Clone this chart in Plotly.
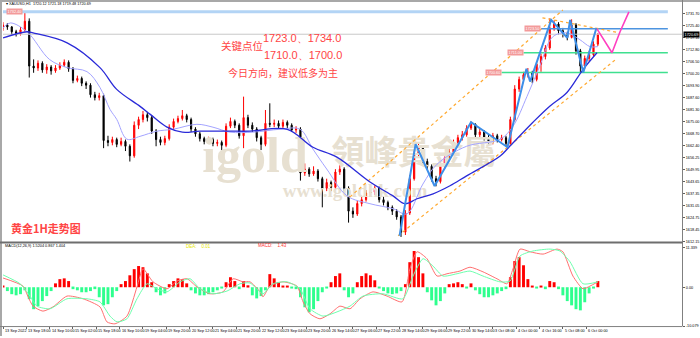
import plotly.graph_objects as go

# ---------------- canvas / pixel layout ----------------
W, H = 700, 338
PX_L, PX_R = 3, 682
MAIN_T, MAIN_B = 3, 243
MACD_T, MACD_B = 245, 328
PX_PER_BAR = 1.458
X_MAX = (PX_R - PX_L) / PX_PER_BAR
P_TOP, P_BOT = 1737.06, 1612.07
M_TOP, M_BOT = 11.339, -10.079


def fx(px):
    return px / W


def fy(py):
    return (H - py) / H


def px2i(px):
    return (px - PX_L) / PX_PER_BAR


def py2p(py):
    return P_TOP - (py - MAIN_T) * (P_TOP - P_BOT) / (MAIN_B - MAIN_T)


# ---------------- data ----------------
hours = list(range(0, 409, 3))  # bar index (hours since 13 Sep) of each candle

opens = [1724.0, 1725.5, 1724.5, 1722.0, 1721.0, 1723.0, 1727.5, 1704.0, 1703.0, 1705.5,
         1702.0, 1703.5, 1701.5, 1703.0, 1704.5, 1706.0, 1702.5, 1696.5, 1697.5, 1695.0,
         1694.0, 1689.0, 1687.5, 1688.5, 1665.0, 1664.0, 1665.5, 1663.0, 1664.5, 1662.0,
         1657.0, 1673.0, 1676.0, 1678.5, 1677.0, 1670.0, 1665.5, 1664.0, 1666.0, 1672.0,
         1675.0, 1676.5, 1678.0, 1676.0, 1671.0, 1668.5, 1666.0, 1664.5, 1665.5, 1663.5,
         1664.0, 1662.5, 1672.5, 1675.0, 1673.0, 1667.5, 1677.0, 1673.0, 1671.0, 1666.5,
         1663.0, 1674.0, 1673.5, 1674.0, 1672.5, 1674.5, 1673.0, 1670.5, 1671.0, 1648.0,
         1650.0, 1647.5, 1649.0, 1645.0, 1640.0, 1643.0, 1640.5, 1648.5, 1650.0, 1640.0,
         1628.0, 1626.5, 1632.0, 1634.0, 1637.5, 1638.0, 1640.0, 1634.0, 1632.5, 1630.0,
         1628.0, 1625.0, 1617.0, 1627.0, 1645.0, 1658.0, 1661.0, 1654.0, 1651.5, 1645.0,
         1643.5, 1652.0, 1656.0, 1659.0, 1664.0, 1666.5, 1668.0, 1671.5, 1673.5, 1668.0,
         1669.5, 1666.5, 1664.0, 1667.5, 1665.5, 1666.5, 1663.5, 1676.0, 1692.0, 1697.0,
         1699.5, 1700.5, 1697.0, 1705.0, 1709.0, 1713.5, 1724.0, 1726.0, 1722.5, 1721.0,
         1719.0, 1725.5, 1712.0, 1704.0, 1708.0, 1710.0, 1715.5]

highs = [1727.0, 1726.5, 1725.0, 1723.0, 1724.5, 1732.3, 1729.0, 1707.5, 1707.0, 1706.5,
         1705.0, 1704.5, 1704.5, 1706.0, 1707.5, 1707.0, 1703.5, 1699.0, 1698.5, 1696.0,
         1695.0, 1690.5, 1690.0, 1689.5, 1667.5, 1667.0, 1666.5, 1666.5, 1665.5, 1663.0,
         1675.0, 1677.5, 1680.5, 1680.0, 1678.0, 1671.0, 1667.0, 1667.5, 1673.5, 1676.5,
         1678.0, 1681.0, 1679.0, 1677.0, 1672.0, 1669.5, 1667.0, 1667.0, 1666.5, 1665.5,
         1665.0, 1674.0, 1677.0, 1676.0, 1674.0, 1688.0, 1678.5, 1674.5, 1672.0, 1667.5,
         1681.0, 1684.5, 1676.0, 1675.5, 1676.0, 1675.5, 1674.0, 1672.5, 1672.0, 1653.0,
         1651.0, 1651.5, 1650.0, 1646.0, 1645.0, 1644.0, 1650.0, 1652.0, 1651.0, 1641.0,
         1630.0, 1633.5, 1636.0, 1639.0, 1640.0, 1641.5, 1641.0, 1635.5, 1633.5, 1631.0,
         1629.0, 1626.0, 1628.5, 1647.0, 1660.0, 1663.5, 1662.0, 1655.5, 1652.5, 1646.5,
         1653.5, 1657.5, 1660.5, 1665.5, 1668.0, 1670.0, 1673.0, 1675.0, 1674.0, 1671.5,
         1670.5, 1668.0, 1669.0, 1668.5, 1668.0, 1667.5, 1677.5, 1694.0, 1698.5, 1701.0,
         1703.0, 1701.5, 1706.5, 1710.5, 1715.0, 1729.0, 1728.0, 1727.0, 1724.0, 1722.0,
         1728.5, 1726.5, 1713.0, 1709.5, 1712.0, 1717.0, 1721.2]

lows = [1722.5, 1723.0, 1720.5, 1719.5, 1720.0, 1722.0, 1698.0, 1700.5, 1701.5, 1700.5,
        1700.0, 1699.5, 1700.5, 1702.0, 1703.5, 1701.0, 1695.0, 1695.5, 1693.5, 1692.0,
        1687.5, 1686.0, 1686.0, 1661.0, 1662.0, 1662.5, 1661.5, 1662.0, 1659.5, 1654.0,
        1656.0, 1671.0, 1674.5, 1675.0, 1668.5, 1662.0, 1662.5, 1662.5, 1665.0, 1671.0,
        1674.0, 1675.5, 1674.5, 1669.5, 1667.0, 1664.5, 1663.0, 1663.5, 1662.0, 1662.0,
        1660.0, 1661.5, 1671.5, 1671.5, 1666.0, 1661.0, 1671.5, 1669.5, 1664.5, 1660.0,
        1662.0, 1672.0, 1672.0, 1671.0, 1671.5, 1671.5, 1669.5, 1669.0, 1644.0, 1646.5,
        1646.0, 1646.5, 1643.5, 1630.0, 1638.5, 1638.5, 1639.5, 1647.0, 1638.0, 1622.0,
        1624.5, 1625.5, 1630.5, 1633.0, 1635.5, 1636.5, 1632.5, 1631.0, 1628.5, 1626.0,
        1623.5, 1614.5, 1615.5, 1626.0, 1644.0, 1656.5, 1652.5, 1650.0, 1643.5, 1641.0,
        1642.5, 1650.5, 1654.5, 1658.0, 1662.5, 1665.0, 1667.0, 1670.5, 1666.5, 1666.5,
        1665.0, 1663.0, 1663.0, 1664.0, 1664.5, 1662.0, 1662.5, 1675.0, 1690.5, 1695.5,
        1698.0, 1695.0, 1696.0, 1701.0, 1707.5, 1712.5, 1722.5, 1720.5, 1719.0, 1717.5,
        1718.5, 1710.0, 1700.5, 1702.5, 1706.5, 1709.0, 1714.5]

closes = [1725.5, 1724.5, 1722.0, 1721.0, 1723.0, 1727.5, 1704.0, 1703.0, 1705.5, 1702.0,
          1703.5, 1701.5, 1703.0, 1704.5, 1706.0, 1702.5, 1696.5, 1697.5, 1695.0, 1694.0,
          1689.0, 1687.5, 1688.5, 1665.0, 1664.0, 1665.5, 1663.0, 1664.5, 1662.0, 1657.0,
          1673.0, 1676.0, 1678.5, 1677.0, 1670.0, 1665.5, 1664.0, 1666.0, 1672.0, 1675.0,
          1676.5, 1678.0, 1676.0, 1671.0, 1668.5, 1666.0, 1664.5, 1665.5, 1663.5, 1664.0,
          1662.5, 1672.5, 1675.0, 1673.0, 1667.5, 1677.0, 1673.0, 1671.0, 1666.5, 1663.0,
          1674.0, 1673.5, 1674.0, 1672.5, 1674.5, 1673.0, 1670.5, 1671.0, 1648.0, 1650.0,
          1647.5, 1649.0, 1645.0, 1640.0, 1643.0, 1640.5, 1648.5, 1650.0, 1640.0, 1628.0,
          1626.5, 1632.0, 1634.0, 1637.5, 1638.0, 1640.0, 1634.0, 1632.5, 1630.0, 1628.0,
          1625.0, 1617.0, 1627.0, 1645.0, 1658.0, 1661.0, 1654.0, 1651.5, 1645.0, 1643.5,
          1652.0, 1656.0, 1659.0, 1664.0, 1666.5, 1668.0, 1671.5, 1673.5, 1668.0, 1669.5,
          1666.5, 1664.0, 1667.5, 1665.5, 1666.5, 1663.5, 1676.0, 1692.0, 1697.0, 1699.5,
          1700.5, 1697.0, 1705.0, 1709.0, 1713.5, 1724.0, 1726.0, 1722.5, 1721.0, 1719.0,
          1725.5, 1712.0, 1704.0, 1708.0, 1710.0, 1715.5, 1720.7]

ma_fast_x = [0, 5, 16.5, 32, 44, 57.6, 66.5, 73.4, 78, 85, 94, 105.6, 116.6, 133, 144, 155.7,
             171.5, 190, 203.7, 212.6, 222, 236, 251.7, 267.5, 277, 288, 297.7, 318, 341,
             349.8, 359.4, 368, 377, 386.8, 395.7, 402.6, 408]
ma_fast_y = [1724.0, 1726.6, 1722.0, 1707.4, 1703.2, 1701.1, 1692.8, 1681.3, 1676.1, 1665.7,
             1667.2, 1669.9, 1670.9, 1673.5, 1672.0, 1669.4, 1669.4, 1670.9, 1670.9, 1660.5,
             1650.1, 1636.0, 1631.9, 1629.3, 1626.6, 1642.2, 1652.6, 1662.0, 1665.7, 1672.5,
             1688.1, 1703.7, 1719.3, 1721.4, 1717.8, 1714.2, 1714.2]

ma_slow_x = [0, 16.5, 20.6, 44, 66.5, 78, 94, 101, 112.5, 123, 135, 155.7, 169.4, 195, 212.6,
             229, 251.7, 267.5, 275.7, 284, 295, 306.6, 318, 341, 347.7, 363.5, 375, 386.8,
             397.8, 407.4]
ma_slow_y = [1718.8, 1722.0, 1721.4, 1716.2, 1703.2, 1691.8, 1682.9, 1678.7, 1672.0, 1669.4,
             1669.9, 1669.9, 1669.9, 1670.9, 1661.5, 1656.3, 1643.3, 1636.0, 1631.9, 1634.5,
             1637.1, 1641.3, 1646.5, 1656.9, 1662.1, 1674.6, 1683.0, 1690.2, 1702.2, 1711.0]

zz_x = [272, 283, 296, 321, 346, 359, 361.5, 376, 387, 389, 398, 407]
zz_y = [1615.1, 1663.1, 1641.2, 1674.6, 1661.5, 1702.6, 1695.9, 1728.2, 1718.8, 1728.2,
        1700.6, 1724.0]

fc_x = [407.4, 417.7, 423.2, 429.3]
fc_y = [1723.5, 1711.0, 1722.0, 1732.4]

ch_up_x = [238, 384]
ch_up_y = [1635.5, 1733.4]
ch_lo_x = [271, 420]
ch_lo_y = [1615.1, 1707.3]
ch_top_x = [370, 423]
ch_top_y = [1729.3, 1721.4]

level_prices = [1732.4, 1723.5, 1711.0, 1700.6]
level_start = [0, 369, 357, 342]
level_end = 456
level_texts = ["1732.40", "1723.50", "1711.00", "1700.60"]
level_label_px = [14, 532, 515.5, 493.5]
level_colors = ["#b3d4f5", "#4d94e0", "#3fe08f", "#3fe08f"]
level_widths = [3, 1.5, 1.5, 1.5]

last_price = 1720.69

macd_hist = [0.4, -1.0, -1.8, -2.1, -1.8, -0.8, -3.1, -5.7, -4.9, -3.6,
             -2.3, -1.0, 1.0, 2.1, 2.3, 1.6, -0.5, -0.8, -1.3, -1.3,
             -1.0, -0.5, -2.6, -4.7, -4.4, -2.6, -1.0, 0.8, 1.6, 3.1,
             4.7, 5.5, 5.2, 3.6, 1.3, -1.3, -2.1, -1.6, 0.8, 1.6,
             2.3, 2.1, 1.0, -0.8, -1.6, -2.1, -2.1, -1.8, -1.3, -0.8,
             -0.3, 1.3, 2.6, 1.6, -0.5, 1.6, 0.5, -2.1, -2.9, -2.3,
             -0.8, 3.4, 2.3, 1.3, 0.3, 0.3, -0.3, -0.5, -2.6, -5.2,
             -6.5, -5.7, -3.6, -1.3, -0.3, 1.3, 2.9, 3.6, -0.8, -2.6,
             -1.6, 1.3, 2.9, 3.6, 3.1, 1.8, -0.3, -1.0, -1.6, -1.8,
             -1.6, -1.0, 0.8, 6.5, 9.4, 7.8, 3.6, -1.3, -3.4, -4.7,
             -3.6, -1.6, 0.8, 1.0, 1.3, 0.8, -0.3, 1.0, -0.8, -1.8,
             -2.6, -2.6, -2.1, -1.6, -1.0, -0.5, 2.6, 6.8, 7.8, 5.7,
             2.1, 0.3, -0.3, 0.3, -0.5, 1.6, 1.3, -0.5, -2.1, -3.6,
             -4.7, -5.7, -6.0, -3.9, -1.6, -0.3, 1.6]

macd_x = [0, 13.7, 17, 20.6, 27.4, 34.3, 43.9, 54.9, 66.5, 71.3, 76.8, 85, 91.9, 96, 102.9,
          112.5, 119.3, 126.2, 133, 142, 150.9, 157.8, 164.6, 169.4, 176.3, 178.3, 183.1, 192,
          201.6, 205.8, 210.6, 217.4, 224.3, 231.1, 238, 244.9, 253.8, 263.4, 273.7, 279.1,
          284, 290.8, 297.7, 304.5, 313.4, 320.3, 329.2, 338.8, 345.7, 349.8, 354.6, 361.5,
          370.4, 380, 384, 390.9, 397.8, 402.6, 408]
macd_y = [2.4, 0.3, -2.3, -4.9, -6.2, -5.1, -2.3, -3.0, -5.1, -9.0, -9.5, -7.5, 0.1, 4.8, 1.4,
          -0.4, 1.6, 2.2, 0.1, -1.7, -1.2, 2.2, 1.4, 1.4, -1.2, -2.5, 0.3, 1.4, 0.3, -3.8,
          -6.9, -8.2, -6.9, -4.9, -5.6, -3.0, -1.2, -2.3, -3.8, 4.8, 9.2, 7.4, 2.9, 3.5, 4.2,
          5.2, 4.0, 2.2, 0.9, 4.8, 9.9, 9.2, 8.6, 9.9, 9.2, 2.9, -0.4, 0.3, 1.4]

sig_x = [0, 11.7, 18.5, 23.3, 32.2, 43.9, 57.6, 66.5, 73.4, 78.2, 85, 91.9, 98.8, 105.6,
         112.5, 121.4, 128.3, 135.1, 144, 153.6, 162.6, 169.4, 178.3, 185.2, 194.8, 203.7,
         210.6, 219.5, 229.1, 238, 246.9, 260.6, 274.3, 281.2, 288.1, 294.9, 301.8, 311.4,
         320.3, 329.2, 340.9, 347.7, 354.6, 363.5, 375.2, 382, 388.9, 397.8, 408]
sig_y = [3.2, 0.9, -2.3, -4.9, -5.6, -3.0, -3.0, -3.8, -7.5, -9.0, -8.2, -3.0, 0.9, -0.4,
         -1.2, 1.4, 2.2, -0.4, -1.7, -1.0, 0.9, 1.1, -1.7, 0.9, 1.4, -0.4, -5.6, -7.5, -6.4,
         -4.9, -2.3, -1.7, -3.0, 2.9, 7.4, 5.5, 2.9, 3.5, 4.2, 2.9, 1.4, 1.6, 8.1, 9.4, 9.9,
         9.4, 6.6, 0.9, 1.4]

price_tick_labels = ["1731.70", "1725.40", "1719.10", "1712.80", "1706.50", "1700.20",
                     "1693.90", "1687.60", "1681.30", "1675.00", "1668.70", "1662.40",
                     "1656.25", "1649.95", "1643.65", "1637.35", "1631.05", "1624.75",
                     "1618.45", "1612.15"]
macd_tick_labels = ["11.339", "0.00", "-10.079"]
macd_tick_vals = [10.3, 0.0, -10.079]   # top label sits just under the pane edge

time_labels = ["13 Sep 2022", "13 Sep 18:00", "14 Sep 10:00", "15 Sep 02:00", "15 Sep 18:00",
               "16 Sep 10:00", "19 Sep 04:00", "19 Sep 20:00", "20 Sep 12:00", "21 Sep 04:00",
               "21 Sep 20:00", "22 Sep 12:00", "23 Sep 04:00", "23 Sep 20:00", "26 Sep 14:00",
               "27 Sep 06:00", "27 Sep 22:00", "28 Sep 14:00", "29 Sep 06:00", "29 Sep 22:00",
               "30 Sep 14:00", "3 Oct 08:00", "4 Oct 00:00", "4 Oct 16:00", "5 Oct 08:00",
               "6 Oct 00:00"]
BARS_PER_LABEL = 16

# ---------------- figure ----------------
fig = go.Figure()

# watermark (behind everything)
wm_col = "#e7e0d1"
fig.add_trace(go.Scatter(x=[px2i(255)], y=[py2p(160)], mode="text", text=["igold"],
                         textfont=dict(family="Liberation Serif", size=50, color=wm_col, weight="bold"),
                         hoverinfo="skip"))
fig.add_trace(go.Scatter(x=[px2i(414)], y=[py2p(157)], mode="text", text=["領峰貴金屬"],
                         textfont=dict(family="Noto Sans CJK TC", size=33, color=wm_col, weight="bold"),
                         hoverinfo="skip"))
fig.add_trace(go.Scatter(x=[px2i(355)], y=[py2p(193)], mode="text", text=["www.igoldhk.com"],
                         textfont=dict(family="Liberation Serif", size=19, color=wm_col, weight="bold"),
                         hoverinfo="skip"))

# current price line
fig.add_trace(go.Scatter(x=[0, X_MAX], y=[last_price, last_price], mode="lines",
                         line=dict(color="#c8c8c8", width=1), hoverinfo="skip"))

# key level lines
for p, s, c, w in zip(level_prices, level_start, level_colors, level_widths):
    fig.add_trace(go.Scatter(x=[s, level_end], y=[p, p], mode="lines",
                             line=dict(color=c, width=w), hoverinfo="skip"))

# channel lines
for cx, cy in [(ch_up_x, ch_up_y), (ch_lo_x, ch_lo_y), (ch_top_x, ch_top_y)]:
    fig.add_trace(go.Scatter(x=cx, y=cy, mode="lines",
                             line=dict(color="#ffa930", width=1.2, dash="dot"), hoverinfo="skip"))

# candles
fig.add_trace(go.Candlestick(x=hours, open=opens, high=highs, low=lows, close=closes,
                             increasing=dict(line=dict(color="#ff0000", width=1), fillcolor="#ff0000"),
                             decreasing=dict(line=dict(color="#000000", width=1), fillcolor="#000000"),
                             whiskerwidth=0, hoverinfo="skip"))

# moving averages
fig.add_trace(go.Scatter(x=ma_fast_x, y=ma_fast_y, mode="lines", line=dict(color="#a3a3ff", width=1, shape="spline"),
                         hoverinfo="skip"))
fig.add_trace(go.Scatter(x=ma_slow_x, y=ma_slow_y, mode="lines", line=dict(color="#2a2ad8", width=1.3, shape="spline"),
                         hoverinfo="skip"))

# zigzag + forecast
fig.add_trace(go.Scatter(x=zz_x, y=zz_y, mode="lines", line=dict(color="#3d8fe8", width=2), hoverinfo="skip"))
fig.add_trace(go.Scatter(x=fc_x, y=fc_y, mode="lines", line=dict(color="#ff3fc0", width=1.6), hoverinfo="skip"))

# MACD pane
hist_colors = ["#ff0000" if v >= 0 else "#2eff8e" for v in macd_hist]
fig.add_trace(go.Bar(x=hours, y=macd_hist, width=2.0, marker=dict(color=hist_colors, line=dict(width=0)),
                     xaxis="x2", yaxis="y2", hoverinfo="skip"))
fig.add_trace(go.Scatter(x=macd_x, y=macd_y, mode="lines", line=dict(color="#ff7070", width=1, shape="spline", smoothing=0.6),
                         xaxis="x2", yaxis="y2", hoverinfo="skip"))
fig.add_trace(go.Scatter(x=sig_x, y=sig_y, mode="lines", line=dict(color="#6effae", width=1, shape="spline", smoothing=0.6),
                         xaxis="x2", yaxis="y2", hoverinfo="skip"))

tiny = dict(family="Liberation Sans", size=3.8, color="#000000")

fig.update_layout(
    width=W, height=H, margin=dict(l=0, r=0, t=0, b=0),
    paper_bgcolor="white", plot_bgcolor="white", showlegend=False,
    boxgap=0.62, hovermode=False,
    xaxis=dict(domain=[fx(PX_L), fx(PX_R)], range=[0, X_MAX], anchor="y",
               showticklabels=False, showgrid=False, zeroline=False, ticks="",
               rangeslider=dict(visible=False), fixedrange=True),
    yaxis=dict(domain=[fy(MAIN_B), fy(MAIN_T)], range=[P_BOT, P_TOP], anchor="x", side="right",
               tickvals=[float(t) for t in price_tick_labels], ticktext=price_tick_labels,
               tickfont=tiny, ticks="outside", ticklen=2, tickcolor="#606060",
               showgrid=False, zeroline=False, fixedrange=True),
    xaxis2=dict(domain=[fx(PX_L), fx(PX_R)], range=[0, X_MAX], anchor="y2",
                tickvals=[BARS_PER_LABEL * k for k in range(len(time_labels))],
                showticklabels=False, ticks="outside", ticklen=2, tickcolor="#606060",
                showgrid=False, zeroline=False, fixedrange=True),
    yaxis2=dict(domain=[fy(MACD_B), fy(MACD_T)], range=[M_BOT, M_TOP], anchor="x2", side="right",
                tickvals=macd_tick_vals, ticktext=macd_tick_labels,
                tickfont=tiny, ticks="outside", ticklen=2, tickcolor="#606060",
                showgrid=False, zeroline=False, fixedrange=True),
)

# frame lines
shapes = [
    dict(type="line", xref="paper", yref="paper", x0=0, x1=1, y0=fy(1), y1=fy(1), line=dict(color="#a8a8a8", width=2)),
    dict(type="line", xref="paper", yref="paper", x0=fx(1), x1=fx(1), y0=0, y1=1, line=dict(color="#a8a8a8", width=2)),
    dict(type="line", xref="paper", yref="paper", x0=fx(682.5), x1=fx(682.5), y0=fy(MACD_B), y1=1, line=dict(color="#808080", width=1)),
    dict(type="line", xref="paper", yref="paper", x0=0, x1=fx(682.5), y0=fy(244), y1=fy(244), line=dict(color="#6e6e6e", width=2)),
    dict(type="line", xref="paper", yref="paper", x0=0, x1=fx(682.5), y0=fy(MACD_B + 0.5), y1=fy(MACD_B + 0.5), line=dict(color="#808080", width=1)),
]
fig.update_layout(shapes=shapes)

ann = []
# header
ann.append(dict(xref="paper", yref="paper", x=fx(4), y=fy(4.5), xanchor="left", yanchor="middle",
                text="▾ XAUUSD,H1  1720.12 1721.18 1719.48 1720.69", showarrow=False, font=tiny))
# current price box
ann.append(dict(xref="paper", yref="y", x=fx(683), y=last_price, xanchor="left", yanchor="middle",
                text=f"{last_price:.2f}", showarrow=False, bgcolor="#000000", borderpad=0.6,
                font=dict(family="Liberation Sans", size=3.8, color="#ffffff")))
# level labels
for p, t, lx in zip(level_prices, level_texts, level_label_px):
    ann.append(dict(xref="paper", yref="y", x=fx(lx), y=p, xanchor="center", yanchor="middle",
                    text=t, showarrow=False, bgcolor="#f39a9a", borderpad=0.6,
                    font=dict(family="Liberation Sans", size=3.8, color="#ffffff")))
# red commentary
red = "#ff4545"
ann.append(dict(xref="paper", yref="paper", x=fx(261), y=fy(38), xanchor="left", yanchor="middle",
                text="1723.0、1734.0", showarrow=False, font=dict(family="Liberation Sans", size=11, color=red)))
ann.append(dict(xref="paper", yref="paper", x=fx(219), y=fy(46), xanchor="left", yanchor="middle",
                text="关键点位", showarrow=False, font=dict(family="Noto Sans CJK SC", size=10.5, color=red)))
ann.append(dict(xref="paper", yref="paper", x=fx(262), y=fy(55), xanchor="left", yanchor="middle",
                text="1710.0、1700.0", showarrow=False, font=dict(family="Liberation Sans", size=11, color=red)))
ann.append(dict(xref="paper", yref="paper", x=fx(226), y=fy(73), xanchor="left", yanchor="middle",
                text="今日方向，建议低多为主", showarrow=False, font=dict(family="Noto Sans CJK SC", size=10, color=red)))
ann.append(dict(xref="paper", yref="paper", x=fx(9), y=fy(229.5), xanchor="left", yanchor="middle",
                text="<b>黄金1H走势图</b>", showarrow=False, font=dict(family="Noto Sans CJK SC", size=11, color=red)))
# MACD pane texts
ann.append(dict(xref="paper", yref="paper", x=fx(3), y=fy(247.5), xanchor="left", yanchor="middle",
                text="MACD(12,26,9) 1.5204 0.867 1.404", showarrow=False, font=tiny))
ann.append(dict(xref="paper", yref="paper", x=fx(184), y=fy(247.5), xanchor="left", yanchor="middle",
                text="DEA:    0.01", showarrow=False, font=dict(family="Liberation Sans", size=4.5, color="#e6e600")))
ann.append(dict(xref="paper", yref="paper", x=fx(256), y=fy(246.5), xanchor="left", yanchor="middle",
                text="MACD:    1.43", showarrow=False, font=dict(family="Liberation Sans", size=4.5, color="#ff3030")))
# time labels
for k, t in enumerate(time_labels):
    ann.append(dict(xref="x2", yref="paper", x=BARS_PER_LABEL * k, y=fy(332.5), xanchor="left", yanchor="middle",
                    text=t, showarrow=False, font=tiny))
fig.update_layout(annotations=ann)

fig.write_html("out.html")
